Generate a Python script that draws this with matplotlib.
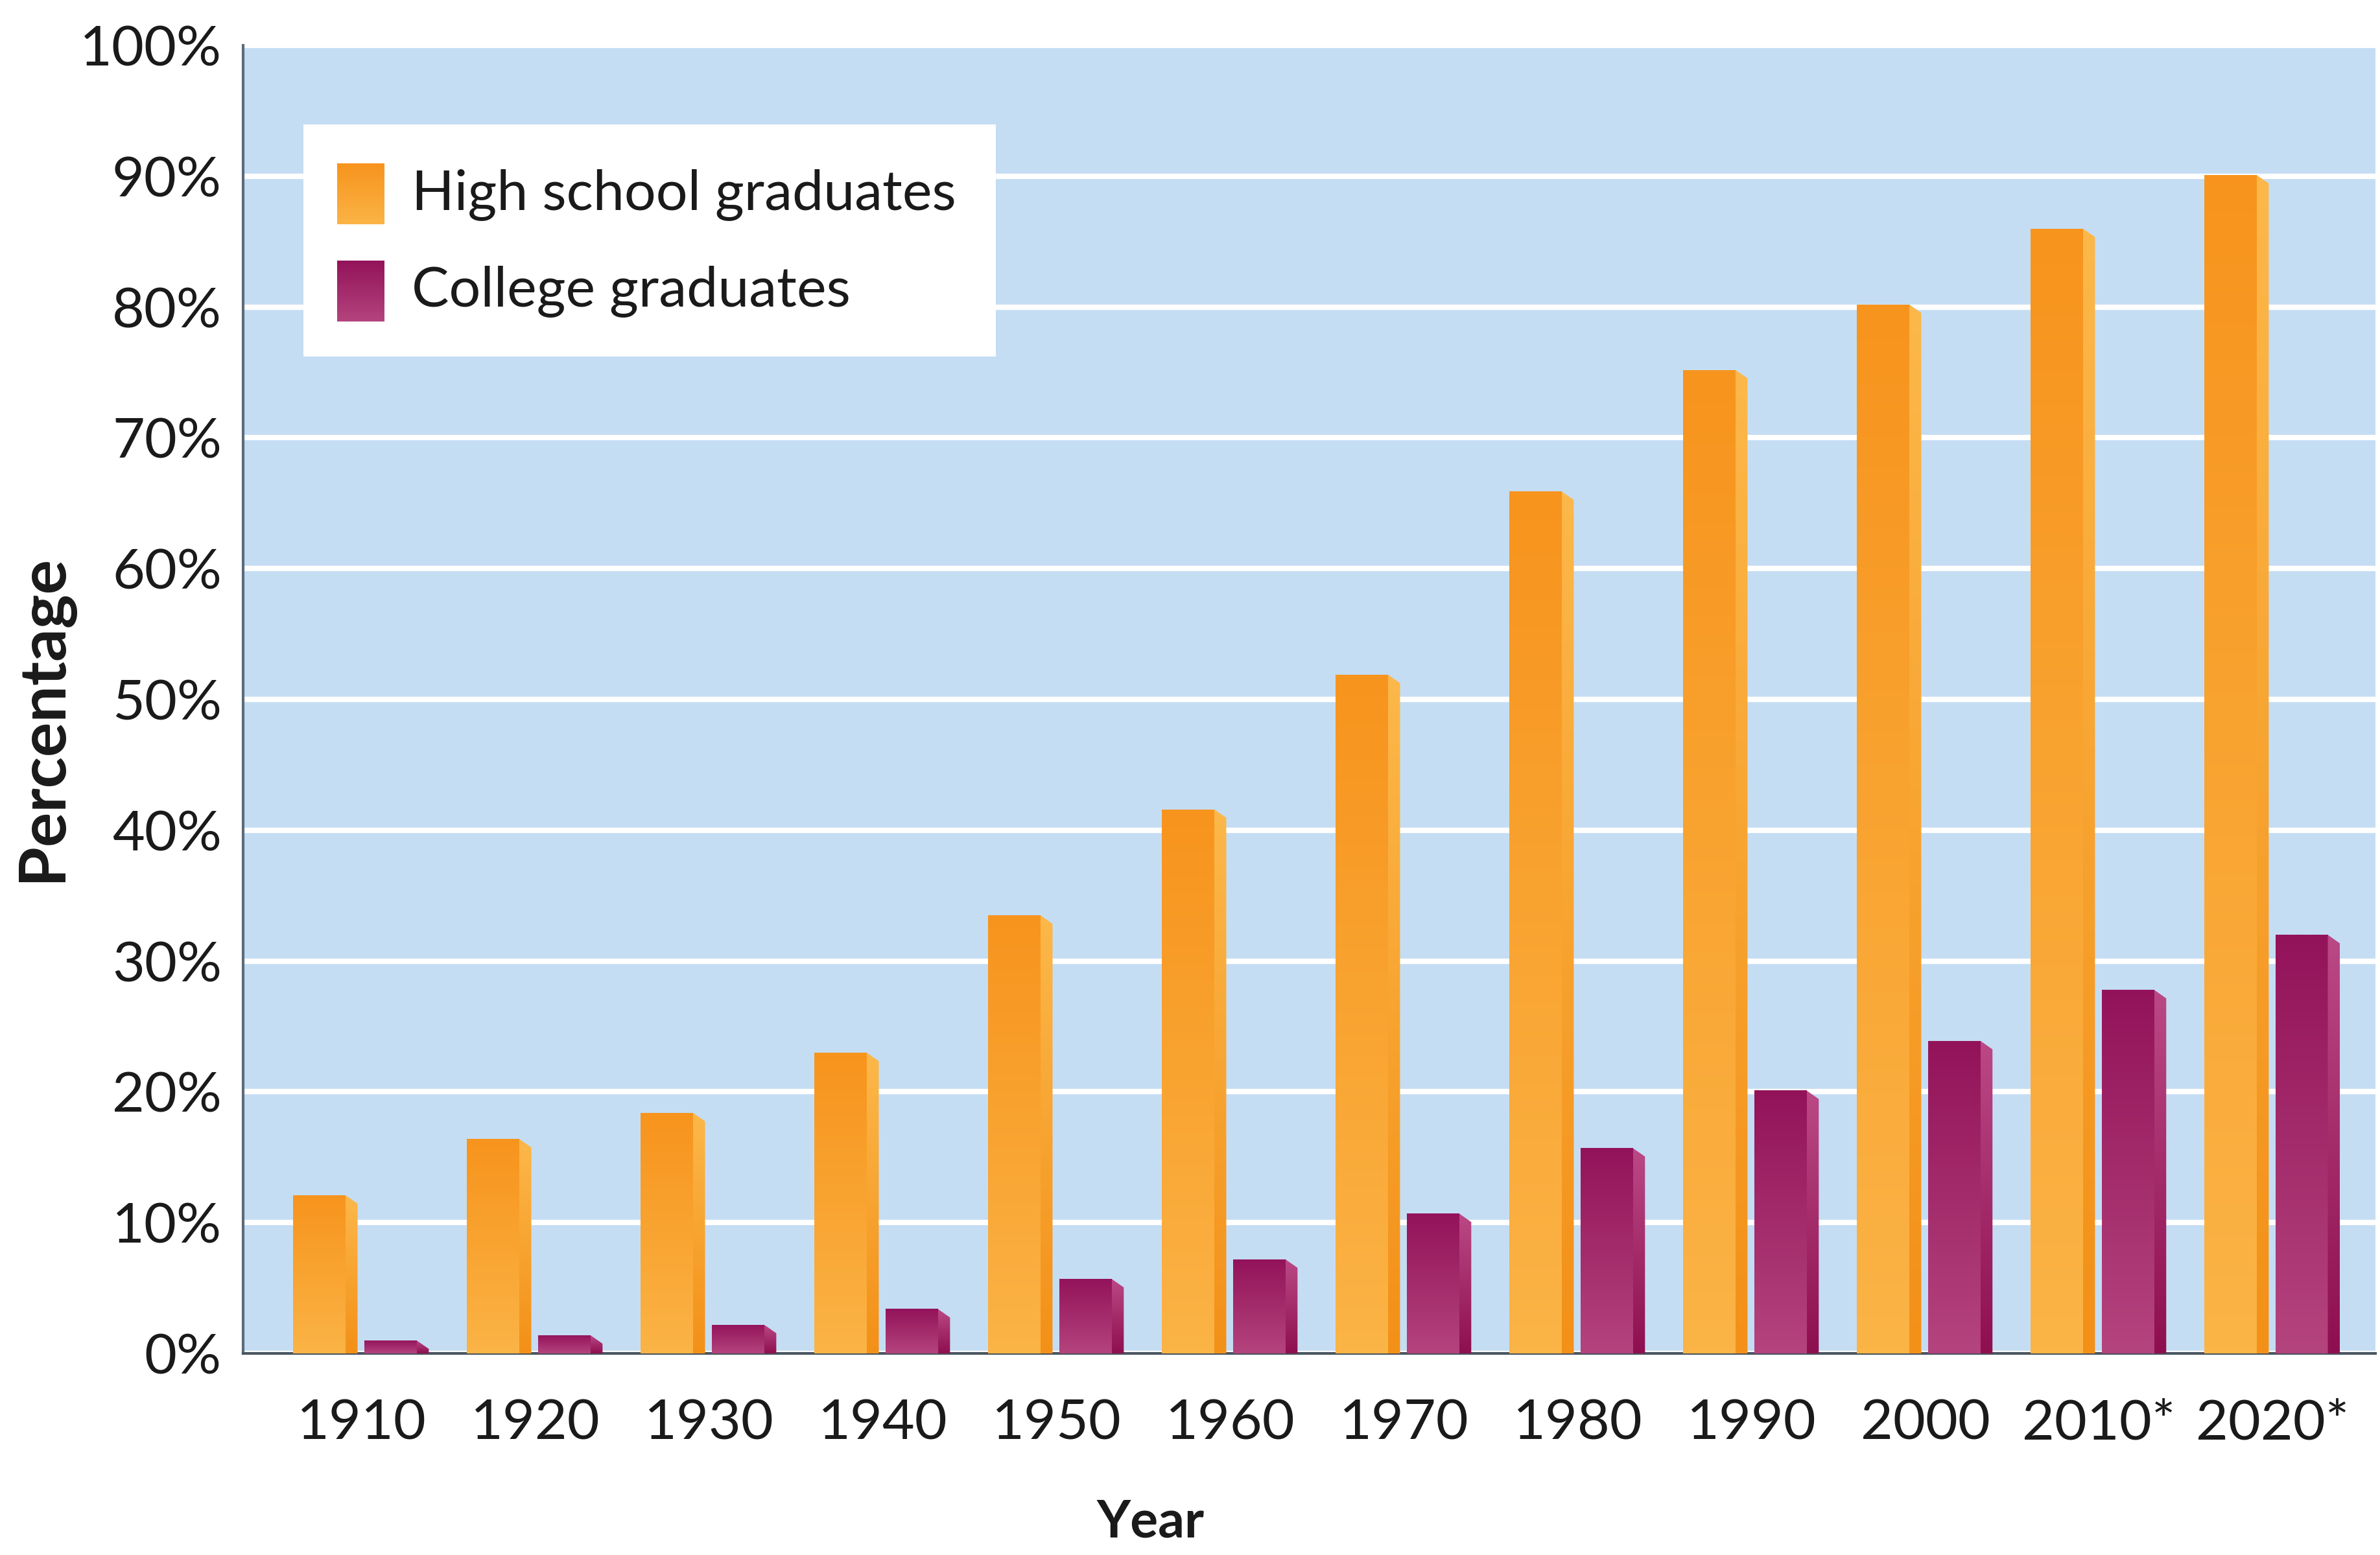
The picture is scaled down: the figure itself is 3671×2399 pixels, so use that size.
import numpy as np
import matplotlib
matplotlib.use("Agg")
import matplotlib.pyplot as plt
from matplotlib.colors import LinearSegmentedColormap
from matplotlib.patches import Polygon

plt.rcParams['font.family'] = ['Lato', 'DejaVu Sans']

# Share of adults who graduated, by decade
years = ["1910", "1920", "1930", "1940", "1950", "1960",
         "1970", "1980", "1990", "2000", "2010*", "2020*"]
high_school = [12.1, 16.4, 18.4, 23.0, 33.5, 41.6, 51.9, 65.9, 75.2, 80.2, 86.0, 90.1]
college = [1.0, 1.4, 2.2, 3.4, 5.7, 7.2, 10.7, 15.7, 20.1, 23.9, 27.8, 32.0]

series_names = ["High school graduates", "College graduates"]

# gradient maps: (bottom colour, top colour)
front_cmaps = [
    LinearSegmentedColormap.from_list("hs_front", ["#fbb446", "#f7941d"]),
    LinearSegmentedColormap.from_list("col_front", ["#b4447e", "#93135a"]),
]
side_cmaps = [
    LinearSegmentedColormap.from_list("hs_side", ["#f39018", "#fcb84a"]),
    LinearSegmentedColormap.from_list("col_side", ["#8e0f50", "#bb4986"]),
]

bar_w = 0.30
offsets = [-0.243, 0.167]
side_w = 0.07
drop = 0.65

grad = np.linspace(0, 1, 256).reshape(-1, 1)

fig = plt.figure(figsize=(36.71, 23.99), dpi=100)
ax = fig.add_axes([0.1022, 0.1296, 0.8958, 0.8412])
ax.set_facecolor("#c5ddf3")

x = np.arange(len(years))

for k, vals in enumerate([high_school, college]):
    bars = ax.bar(x + offsets[k], vals, width=bar_w, color="none",
                  edgecolor="none", zorder=2)
    for p in bars:
        x0, w, h = p.get_x(), p.get_width(), p.get_height()
        im = ax.imshow(grad, cmap=front_cmaps[k], origin="lower", aspect="auto",
                       extent=[x0, x0 + w, 0, h], zorder=3, interpolation="bilinear")
        im.set_clip_path(p)
        # right-hand side face with a slanted top
        x1 = x0 + w
        side = Polygon([(x1, 0), (x1, h), (x1 + side_w, h - drop), (x1 + side_w, 0)],
                       closed=True, facecolor="none", edgecolor="none", zorder=3)
        ax.add_patch(side)
        im2 = ax.imshow(grad, cmap=side_cmaps[k], origin="lower", aspect="auto",
                        extent=[x1, x1 + side_w, 0, h], zorder=3, interpolation="bilinear")
        im2.set_clip_path(side)

ax.set_xlim(-0.681, 11.59)
ax.set_ylim(0, 100)

ax.set_yticks(np.arange(0, 101, 10))
ax.set_yticklabels([f"{v}%" for v in range(0, 101, 10)])
ax.set_xticks(x)
ax.set_xticklabels(years)
ax.tick_params(axis="y", length=0, pad=24, labelsize=62, labelcolor="#1a1a1a")
ax.tick_params(axis="x", length=0, pad=50, labelsize=62, labelcolor="#1a1a1a")

ax.yaxis.grid(True, color="white", linewidth=6)
ax.xaxis.grid(False)
ax.set_axisbelow(True)

for s in ["top", "right"]:
    ax.spines[s].set_visible(False)
ax.spines["left"].set_color("#5b6b7b")
ax.spines["left"].set_linewidth(3)
ax.spines["bottom"].set_color("#4a5560")
ax.spines["bottom"].set_linewidth(3)

ax.set_xlabel("Year", fontsize=58, fontweight="bold", color="#1a1a1a", va="center")
ax.set_ylabel("Percentage", fontsize=72, fontweight="bold", color="#1a1a1a", va="center")
ax.xaxis.set_label_coords(0.4256, -0.129)
ax.yaxis.set_label_coords(-0.094, 0.486)

# legend box with gradient swatches
lax = fig.add_axes([0.1276, 0.7707, 0.2908, 0.1493], zorder=5)
lax.set_facecolor("white")
lax.set_xticks([])
lax.set_yticks([])
for s in lax.spines.values():
    s.set_visible(False)

swatch_y = [(0.569, 0.83), (0.150, 0.412)]
for k in range(2):
    y0, y1 = swatch_y[k]
    lax.imshow(grad, cmap=front_cmaps[k], origin="lower", aspect="auto",
               extent=[0.048, 0.116, y0, y1], interpolation="bilinear")
    lax.text(0.156, (y0 + y1) / 2, series_names[k], fontsize=62,
             color="#1a1a1a", va="center", ha="left")
lax.set_xlim(0, 1)
lax.set_ylim(0, 1)

fig.savefig("out.png", dpi=100, facecolor="white")
